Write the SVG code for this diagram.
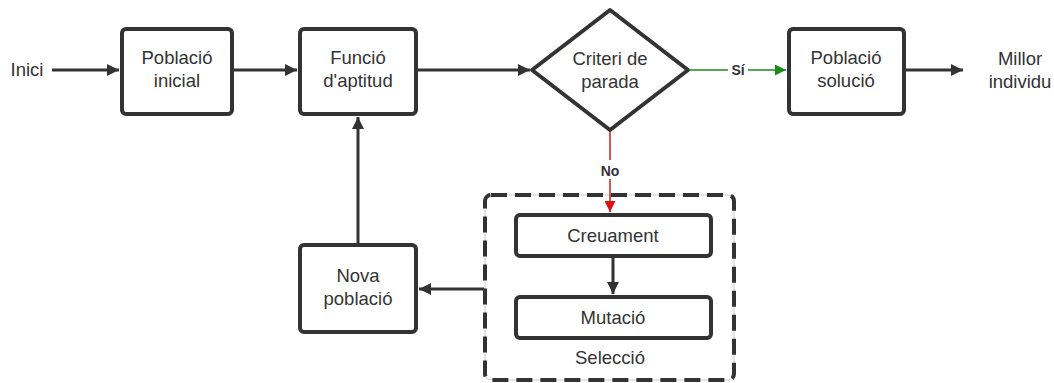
<svg xmlns="http://www.w3.org/2000/svg" width="1054" height="383" viewBox="0 0 1054 383">
  <defs>
    <style>
      .box { fill: #fff; stroke: #333; stroke-width: 4; }
      .lbl { font-family: "Liberation Sans", Arial, sans-serif; font-size: 18.5px; fill: #333; text-anchor: middle; }
      .tag { font-family: "Liberation Sans", Arial, sans-serif; font-size: 14px; font-weight: bold; fill: #333; text-anchor: middle; }
      .wire { fill: none; stroke: #333; stroke-width: 3; }
    </style>
    <marker id="ahBig" viewBox="0 0 10 10" refX="10" refY="5" markerWidth="16" markerHeight="12" markerUnits="userSpaceOnUse" orient="auto">
      <path d="M0,0 L10,5 L0,10 z" fill="#333"/>
    </marker>
    <marker id="ahGreen" viewBox="0 0 10 10" refX="10" refY="5" markerWidth="15" markerHeight="11" markerUnits="userSpaceOnUse" orient="auto">
      <path d="M0,0 L10,5 L0,10 z" fill="#1a8c1a"/>
    </marker>
    <marker id="ahRed" viewBox="0 0 10 10" refX="10" refY="5" markerWidth="15" markerHeight="11" markerUnits="userSpaceOnUse" orient="auto">
      <path d="M0,0 L10,5 L0,10 z" fill="#e01010"/>
    </marker>
  </defs>

  <rect width="1054" height="383" fill="#fff"/>

  <!-- Selection group (dashed container) -->
  <g id="seleccio">
    <rect x="485" y="195" width="249" height="185" rx="6" fill="none" stroke="#ccc" stroke-width="1"/>
    <rect x="485" y="195" width="249" height="185" rx="6" fill="none" stroke="#333" stroke-width="4" stroke-dasharray="16 8"/>
    <text class="lbl" x="610" y="364">Selecció</text>
  </g>

  <!-- Connectors -->
  <g id="connectors">
    <line class="wire" x1="52" y1="70" x2="119" y2="70" marker-end="url(#ahBig)"/>
    <line class="wire" x1="233" y1="70" x2="297" y2="70" marker-end="url(#ahBig)"/>
    <line class="wire" x1="417" y1="70" x2="530" y2="70" marker-end="url(#ahBig)"/>
    <line x1="690" y1="70" x2="786" y2="70" stroke="#1a8c1a" stroke-width="1.5" marker-end="url(#ahGreen)"/>
    <line class="wire" x1="905" y1="70" x2="963" y2="70" marker-end="url(#ahBig)"/>
    <line x1="610" y1="131" x2="610" y2="212" stroke="#c02020" stroke-width="1.5" marker-end="url(#ahRed)"/>
    <line class="wire" x1="613" y1="257" x2="613" y2="294" marker-end="url(#ahBig)"/>
    <line class="wire" x1="484" y1="289" x2="419" y2="289" marker-end="url(#ahBig)"/>
    <line class="wire" x1="358" y1="244" x2="358" y2="117" marker-end="url(#ahBig)"/>
    <rect x="728" y="61" width="20" height="17" fill="#fff"/>
    <text class="tag" x="738" y="75">Sí</text>
    <rect x="597" y="160" width="26" height="19" fill="#fff"/>
    <text class="tag" x="610" y="176">No</text>
  </g>

  <!-- Nodes -->
  <g id="inici">
    <text class="lbl" x="27" y="76">Inici</text>
  </g>
  <g id="poblacio-inicial">
    <rect class="box" x="122" y="29" width="110" height="85" rx="4"/>
    <text class="lbl" x="177" y="64">Població</text>
    <text class="lbl" x="177" y="87">inicial</text>
  </g>
  <g id="funcio-aptitud">
    <rect class="box" x="300" y="29" width="116" height="85" rx="4"/>
    <text class="lbl" x="358" y="64">Funció</text>
    <text class="lbl" x="358" y="87">d'aptitud</text>
  </g>
  <g id="criteri-parada">
    <path class="box" d="M610,10 L688,70 L610,130 L532,70 Z" stroke-linejoin="round"/>
    <text class="lbl" x="610" y="65">Criteri de</text>
    <text class="lbl" x="610" y="88">parada</text>
  </g>
  <g id="poblacio-solucio">
    <rect class="box" x="789" y="29" width="115" height="85" rx="4"/>
    <text class="lbl" x="846" y="64">Població</text>
    <text class="lbl" x="846" y="87">solució</text>
  </g>
  <g id="millor-individu">
    <text class="lbl" x="1020" y="65">Millor</text>
    <text class="lbl" x="1020" y="88">individu</text>
  </g>
  <g id="creuament">
    <rect class="box" x="516" y="215" width="195" height="41" rx="4"/>
    <text class="lbl" x="613" y="242">Creuament</text>
  </g>
  <g id="mutacio">
    <rect class="box" x="516" y="297" width="195" height="41" rx="4"/>
    <text class="lbl" x="613" y="324">Mutació</text>
  </g>
  <g id="nova-poblacio">
    <rect class="box" x="300" y="245" width="116" height="87" rx="4"/>
    <text class="lbl" x="358" y="282">Nova</text>
    <text class="lbl" x="358" y="305">població</text>
  </g>
</svg>
